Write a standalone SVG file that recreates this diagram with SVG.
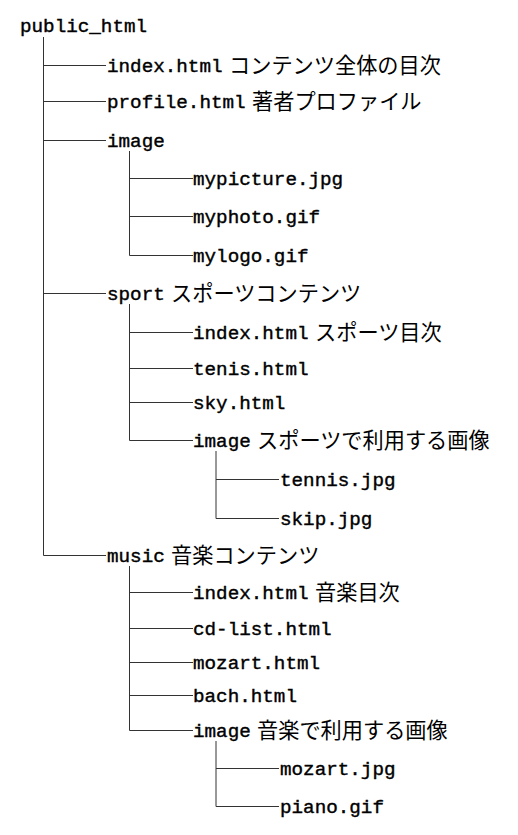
<svg xmlns="http://www.w3.org/2000/svg" width="518" height="835" viewBox="0 0 518 835">
<style>
.tt{font-family:"Liberation Mono","DejaVu Sans Mono",monospace;font-size:19.25px;fill:#000;stroke:#000;stroke-width:0.4px}
.jp{font-family:"Noto Sans CJK JP",sans-serif;font-size:21.2px;fill:#000}
.ln{stroke:#333;stroke-width:1;fill:none}
</style>
<rect width="518" height="835" fill="#fff"/>
<g id="connectors" class="ln">
<path d="M43.5 37V555.5H106"/>
<path d="M43.5 65.5H106M43.5 101.5H106M43.5 140.5H106M43.5 293.5H106"/>
<path d="M129.5 151V255.5H193M129.5 178.5H193M129.5 216.5H193"/>
<path d="M129.5 304V440.5H193M129.5 332.5H193M129.5 368.5H193M129.5 402.5H193"/>
<path d="M216 451V518.5H279M216 479.5H279"/>
<path d="M129.5 566V730.5H193M129.5 592.5H193M129.5 628.5H193M129.5 662.5H193M129.5 695.5H193"/>
<path d="M216 741V806.5H279M216 768.5H279"/>
</g>
<g id="n-root"><text class="tt" x="20" y="32">public_html</text></g>
<g id="n-index"><text class="tt" x="107" y="71.5">index.html</text><text class="jp" x="229" y="72.5">コンテンツ全体の目次</text></g>
<g id="n-profile"><text class="tt" x="107" y="107.5">profile.html</text><text class="jp" x="252" y="108.5">著者プロファイル</text></g>
<g id="n-image"><text class="tt" x="107" y="146.5">image</text></g>
<g id="n-mypicture"><text class="tt" x="193" y="184.5">mypicture.jpg</text></g>
<g id="n-myphoto"><text class="tt" x="193" y="222.5">myphoto.gif</text></g>
<g id="n-mylogo"><text class="tt" x="193" y="261.5">mylogo.gif</text></g>
<g id="n-sport"><text class="tt" x="107" y="299.5">sport</text><text class="jp" x="171" y="300.5">スポーツコンテンツ</text></g>
<g id="n-sport-index"><text class="tt" x="193" y="338.5">index.html</text><text class="jp" x="315" y="339.5">スポーツ目次</text></g>
<g id="n-tenis"><text class="tt" x="193" y="374.5">tenis.html</text></g>
<g id="n-sky"><text class="tt" x="193" y="408.5">sky.html</text></g>
<g id="n-sport-image"><text class="tt" x="193" y="446.5">image</text><text class="jp" x="257" y="447.5">スポーツで利用する画像</text></g>
<g id="n-tennis"><text class="tt" x="280" y="485.5">tennis.jpg</text></g>
<g id="n-skip"><text class="tt" x="280" y="524.5">skip.jpg</text></g>
<g id="n-music"><text class="tt" x="107" y="561.5">music</text><text class="jp" x="171" y="562.5">音楽コンテンツ</text></g>
<g id="n-music-index"><text class="tt" x="193" y="598.5">index.html</text><text class="jp" x="315" y="599.5">音楽目次</text></g>
<g id="n-cdlist"><text class="tt" x="193" y="634.5">cd-list.html</text></g>
<g id="n-mozart-html"><text class="tt" x="193" y="668.5">mozart.html</text></g>
<g id="n-bach"><text class="tt" x="193" y="701.5">bach.html</text></g>
<g id="n-music-image"><text class="tt" x="193" y="736.5">image</text><text class="jp" x="257" y="737.5">音楽で利用する画像</text></g>
<g id="n-mozart-jpg"><text class="tt" x="280" y="774.5">mozart.jpg</text></g>
<g id="n-piano"><text class="tt" x="280" y="812.5">piano.gif</text></g>
</svg>
